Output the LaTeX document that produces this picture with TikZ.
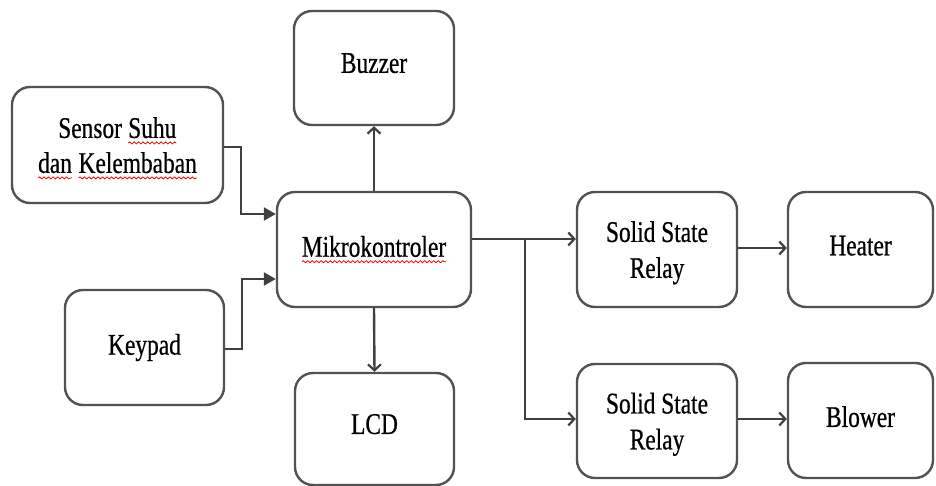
\documentclass[tikz,border=0pt]{standalone}
\usepackage{fontspec}
\setmainfont[FakeStretch=0.78,FakeBold=0.6]{Liberation Serif}
\usetikzlibrary{arrows.meta,decorations.pathmorphing}
\newcommand\sq[1]{\tikz[baseline=(sqw.base)]{\node[inner sep=0pt,outer sep=0pt,draw=none,fill=none,minimum width=0pt,minimum height=0pt,rounded corners=0pt](sqw){#1};\draw[red,line width=0.8pt,rounded corners=0pt,decorate,decoration={snake,amplitude=1pt,segment length=4.5pt}]([yshift=-5pt]sqw.base west)--([yshift=-5pt]sqw.base east);}}
\tikzset{
  blk/.style={draw=black!68,line width=2.4pt,rounded corners=18pt,fill=white,align=center,inner sep=0pt,
    font=\fontsize{30}{36}\selectfont},
  con/.style={draw=black!75,line width=2.4pt,-{Straight Barb[length=6pt,width=13pt,line width=2.2pt]}},
  confill/.style={draw=black!75,line width=2.4pt,-{Triangle[length=12pt,width=13pt]}}
}
\begin{document}
\begin{tikzpicture}[x=1pt,y=-1pt]
\useasboundingbox (0,0) rectangle (936,486);
\node[blk,minimum width=211pt,minimum height=116pt,text depth=-10pt] (sensor) at (117.5,145) {Sensor \sq{Suhu}\\[-1pt]\sq{dan} \sq{Kelembaban}};
\node[blk,minimum width=159pt,minimum height=115pt] (keypad) at (144.5,347.5) {Keypad};
\node[blk,minimum width=160pt,minimum height=114pt,text depth=10pt] (buzzer) at (374,68) {Buzzer};
\node[blk,minimum width=194pt,minimum height=115pt] (mikro) at (374,249.5) {\sq{Mikrokontroler}};
\node[blk,minimum width=159pt,minimum height=112pt,text depth=10pt] (lcd) at (374.5,429) {LCD};
\node[blk,minimum width=160pt,minimum height=115pt,text depth=-8pt] (ssr1) at (657,249.5) {Solid State\\Relay};
\node[blk,minimum width=145pt,minimum height=115pt,text depth=8pt] (heater) at (860.5,249.5) {Heater};
\node[blk,minimum width=160pt,minimum height=114pt,text depth=-8pt] (ssr2) at (657,421) {Solid State\\Relay};
\node[blk,minimum width=145pt,minimum height=115pt,text depth=8pt] (blower) at (860.5,420.5) {Blower};
% inputs
\draw[confill] ([yshift=-2pt]sensor.east) -- ++(17,0) |- ([yshift=35.5pt]mikro.west);
\draw[confill] ([yshift=-1.5pt]keypad.east) -- ++(17,0) |- ([yshift=-29.5pt]mikro.west);
% outputs
\draw[con] (mikro.north) -- (buzzer.south);
\draw[con] (mikro.south) -- (lcd.north);
\draw[con] ([yshift=10.5pt]mikro.east) -- ([yshift=10.5pt]ssr1.west);
\coordinate (brx) at (525,239);
\draw[con] (brx) |- ([yshift=2pt]ssr2.west);
\draw[con] ([yshift=1.5pt]ssr1.east) -- ([yshift=1.5pt]heater.west);
\draw[con] ([yshift=2pt]ssr2.east) -- ([yshift=1.5pt]blower.west);
\end{tikzpicture}
\end{document}
